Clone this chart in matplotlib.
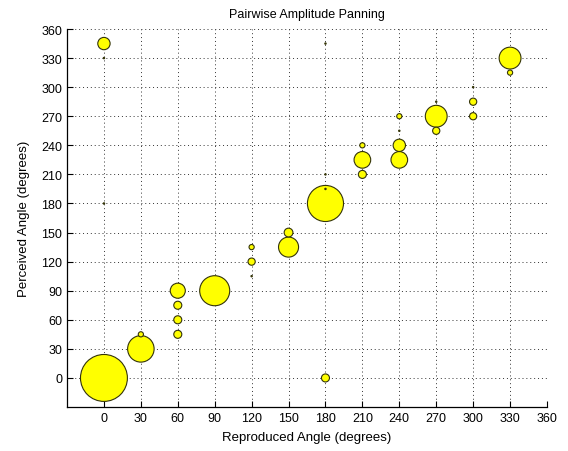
import numpy as np
import matplotlib.pyplot as plt

plt.rcParams['font.family'] = ['Liberation Sans', 'DejaVu Sans']

# reproduced angle, perceived angle, number of responses (bubble area)
reproduced = [0, 0, 0, 0,
              30, 30,
              60, 60, 60, 60,
              90,
              120, 120, 120,
              150, 150,
              180, 180, 180, 180, 180,
              210, 210, 210,
              240, 240, 240, 240,
              270, 270, 270,
              300, 300, 300,
              330, 330]
perceived = [0, 345, 330, 180,
             30, 45,
             90, 75, 60, 45,
             90,
             120, 135, 105,
             135, 150,
             180, 0, 195, 210, 345,
             225, 240, 210,
             225, 240, 255, 270,
             270, 255, 285,
             285, 270, 300,
             330, 315]
counts = [88, 6, 0, 0,
          28, 1,
          9, 2.5, 2.5, 2.5,
          36,
          2, 1, 0,
          16, 3,
          52, 2.5, 0, 0, 0,
          11, 1, 2.5,
          11, 6, 0, 1,
          19, 2, 0,
          2, 2, 0,
          19, 1]

ticks = np.arange(0, 361, 30)

fig = plt.figure(figsize=(5.68, 4.52), dpi=100)
ax = fig.add_axes([0.118, 0.0973, 0.845, 0.8363])

sizes = 12.96 * np.array(counts) + 1.0
ax.scatter(reproduced, perceived, s=sizes, c='#ffff00',
           edgecolors='#33330a', linewidths=0.8, zorder=3)

ax.set_xlim(-30, 360)
ax.set_ylim(-30, 360)
ax.set_xticks(ticks)
ax.set_yticks(ticks)
ax.tick_params(direction='in', length=4, width=0.8, labelsize=9,
               colors='black', top=False, right=False)
ax.grid(True, color='#333333', linestyle=(0, (1, 3)), linewidth=0.7)
ax.set_axisbelow(True)
ax.spines['top'].set_visible(False)
ax.spines['right'].set_visible(False)
ax.spines['left'].set_linewidth(0.9)
ax.spines['bottom'].set_linewidth(0.9)

ax.set_title('Pairwise Amplitude Panning', fontsize=9, pad=9)
ax.set_xlabel('Reproduced Angle (degrees)', fontsize=9.5, labelpad=5)
ax.set_ylabel('Perceived Angle (degrees)', fontsize=9.5, labelpad=8)

plt.savefig('out.png')
